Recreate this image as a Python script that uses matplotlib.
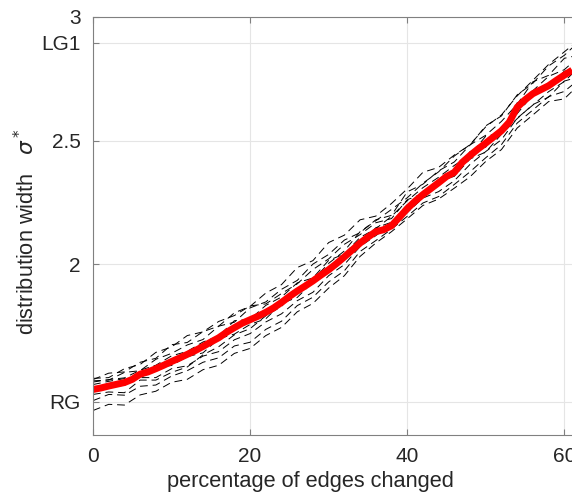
import numpy as np
import matplotlib
matplotlib.use("Agg")
import matplotlib.pyplot as plt

plt.rcParams['font.family'] = ['Liberation Sans', 'DejaVu Sans']
plt.rcParams['mathtext.fontset'] = 'dejavusans'

# mean curve (red), sampled every 1 percent
x_mean = np.arange(0, 62)
y_mean = [1.494, 1.500, 1.508, 1.515, 1.522, 1.535, 1.556, 1.565, 1.578, 1.592,
          1.607, 1.621, 1.636, 1.651, 1.668, 1.686, 1.703, 1.725, 1.744, 1.762,
          1.776, 1.790, 1.806, 1.824, 1.846, 1.870, 1.892, 1.912, 1.933, 1.956,
          1.978, 2.003, 2.030, 2.058, 2.086, 2.110, 2.132, 2.140, 2.156, 2.190,
          2.225, 2.255, 2.282, 2.306, 2.330, 2.355, 2.372, 2.412, 2.440, 2.466,
          2.490, 2.515, 2.540, 2.575, 2.635, 2.665, 2.690, 2.706, 2.722, 2.744,
          2.765, 2.785]

# individual runs (black dashed), every 2 percent plus the last point
x_runs = list(range(0, 61, 2)) + [61]
run_a = [1.534, 1.560, 1.565, 1.604, 1.620, 1.675, 1.684, 1.728, 1.750, 1.804, 1.830,
         1.884, 1.918, 1.987, 2.015, 2.088, 2.118, 2.180, 2.195, 2.246, 2.305, 2.372,
         2.392, 2.442, 2.482, 2.560, 2.600, 2.685, 2.732, 2.802, 2.845, 2.875]
run_b = [1.529, 1.532, 1.563, 1.570, 1.616, 1.640, 1.674, 1.696, 1.750, 1.766, 1.824,
         1.848, 1.899, 1.935, 2.001, 2.040, 2.098, 2.128, 2.180, 2.198, 2.293, 2.324,
         2.378, 2.414, 2.483, 2.522, 2.578, 2.647, 2.738, 2.764, 2.833, 2.840]
run_c = [1.524, 1.534, 1.541, 1.572, 1.592, 1.630, 1.648, 1.686, 1.710, 1.772, 1.778,
         1.834, 1.868, 1.925, 1.945, 2.016, 2.042, 2.109, 2.144, 2.194, 2.257, 2.310,
         2.352, 2.400, 2.442, 2.518, 2.532, 2.653, 2.702, 2.760, 2.787, 2.815]
run_d = [1.514, 1.527, 1.538, 1.540, 1.584, 1.591, 1.627, 1.642, 1.699, 1.718, 1.757,
         1.780, 1.842, 1.866, 1.929, 1.972, 2.026, 2.080, 2.148, 2.170, 2.241, 2.276,
         2.326, 2.366, 2.456, 2.474, 2.546, 2.609, 2.686, 2.716, 2.781, 2.785]
run_e = [1.494, 1.504, 1.511, 1.542, 1.542, 1.578, 1.590, 1.629, 1.647, 1.695, 1.720,
         1.767, 1.800, 1.853, 1.887, 1.954, 1.999, 2.072, 2.116, 2.162, 2.209, 2.268,
         2.294, 2.338, 2.404, 2.456, 2.504, 2.591, 2.644, 2.698, 2.739, 2.770]
run_f = [1.449, 1.474, 1.471, 1.507, 1.512, 1.548, 1.570, 1.604, 1.622, 1.670, 1.685,
         1.737, 1.770, 1.833, 1.867, 1.929, 1.974, 2.052, 2.096, 2.142, 2.194, 2.248,
         2.274, 2.323, 2.374, 2.431, 2.484, 2.571, 2.624, 2.678, 2.699, 2.725]
run_g = [1.409, 1.434, 1.431, 1.472, 1.487, 1.523, 1.535, 1.574, 1.592, 1.640, 1.660,
         1.712, 1.745, 1.808, 1.842, 1.904, 1.954, 2.032, 2.086, 2.132, 2.184, 2.238,
         2.264, 2.308, 2.354, 2.416, 2.464, 2.551, 2.604, 2.658, 2.669, 2.700]
run_h = [1.539, 1.542, 1.578, 1.595, 1.644, 1.666, 1.712, 1.727, 1.769, 1.793, 1.832,
         1.840, 1.882, 1.921, 1.979, 2.022, 2.081, 2.120, 2.168, 2.185, 2.261, 2.286,
         2.336, 2.356, 2.426, 2.454, 2.526, 2.589, 2.646, 2.676, 2.741, 2.750]
run_i = [1.474, 1.484, 1.481, 1.532, 1.532, 1.563, 1.585, 1.634, 1.667, 1.715, 1.740,
         1.792, 1.830, 1.898, 1.937, 2.004, 2.054, 2.132, 2.176, 2.222, 2.269, 2.328,
         2.374, 2.438, 2.484, 2.556, 2.604, 2.681, 2.744, 2.808, 2.859, 2.885]
runs = [run_a, run_b, run_c, run_d, run_e, run_f, run_g, run_h, run_i]

x_ticks = [0, 20, 40, 60]
y_ticks = [1.445, 2, 2.5, 2.895, 3]
y_ticklabels = ['RG', '2', '2.5', 'LG1', '3']

fig = plt.figure(figsize=(5.72, 4.97), dpi=100)
# axes runs a bit past the right edge of the figure, like the cropped original
ax = fig.add_axes([93 / 572, 62 / 497, 487 / 572, 418 / 497])

for r in runs:
    ax.plot(x_runs, r, color='black', lw=0.7, dashes=(8, 5))
ax.plot(x_mean, y_mean, color='#ff0000', lw=5, solid_capstyle='butt')

ax.set_xlim(0, 62)
ax.set_ylim(1.31, 3)
ax.set_xticks(x_ticks)
ax.set_yticks(y_ticks)
ax.set_yticklabels(y_ticklabels)

ax.grid(True, color='#e5e5e5', lw=0.8)
ax.set_axisbelow(True)
for s in ax.spines.values():
    s.set_color('#808080')
    s.set_linewidth(0.8)
ax.tick_params(direction='in', length=4, width=0.8, color='#808080',
               labelcolor='#262626', labelsize=15, top=True, right=True, pad=9)

ax.set_xlabel('percentage of edges changed', fontsize=15.7, color='#262626')
ax.xaxis.set_label_coords((310 - 93) / 487, -0.087)
ax.set_ylabel('distribution width   $\\sigma^*$', fontsize=15.7, color='#262626')
ax.yaxis.set_label_coords(-0.111, 0.486)

fig.savefig('out.png', dpi=100)
